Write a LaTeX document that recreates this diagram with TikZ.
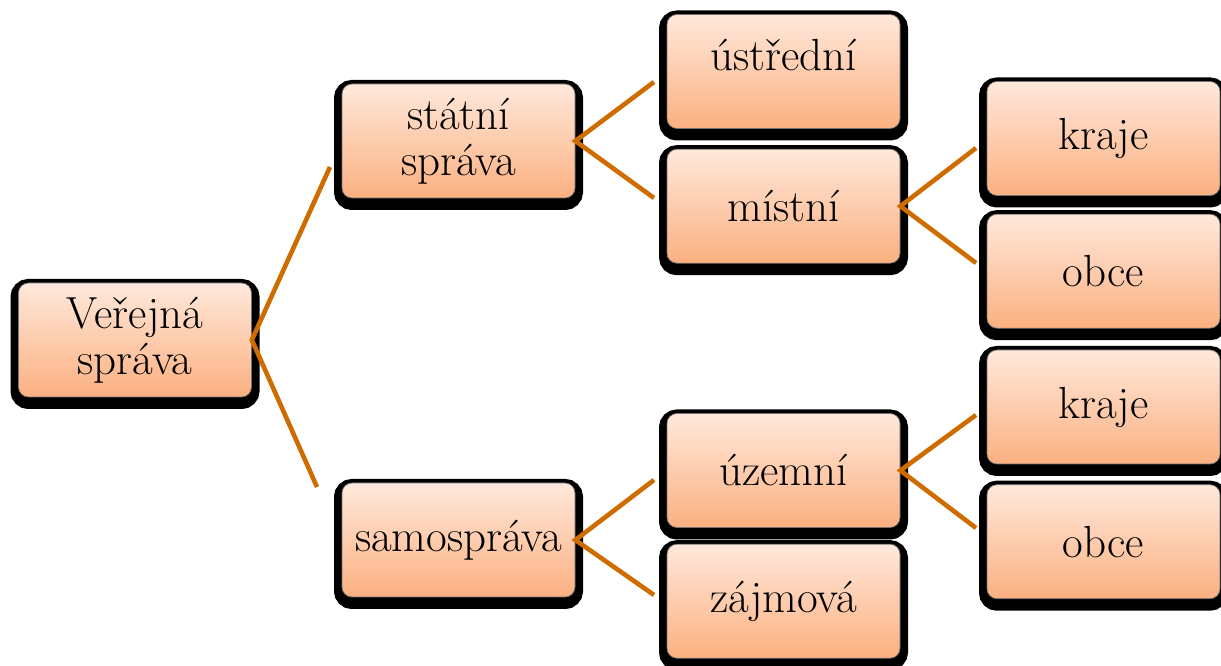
\documentclass[tikz,border=0pt]{standalone}
\usepackage{tikz}
\usetikzlibrary{calc,positioning}
\usepackage{xcolor}
\definecolor{peachtop}{RGB}{255,232,219}
\definecolor{peachbot}{RGB}{251,176,128}
\definecolor{linkorange}{RGB}{206,108,0}

\begin{document}
\begin{tikzpicture}[
boxnode/.style={rectangle, rounded corners=0.25cm, draw=black!55, line width=0.5pt,
  top color=peachtop, bottom color=peachbot,
  preaction={draw=black, line width=0.4cm, transform canvas={yshift=-0.1cm}},
  minimum width=5.825cm, minimum height=2.85cm, inner sep=0pt, align=center,
  font=\fontsize{32}{33}\selectfont},
link/.style={draw=linkorange, line width=0.115cm},
]
\useasboundingbox (0,0) rectangle (30.525,16.65);
%Nodes
\node[boxnode]  (verejna)  at (3.375,8.15) {Veřejná\\správa};
\node[boxnode]  (statni)  at (11.4625,13.125) {státní\\správa};
\node[boxnode]  (samosprava)  at (11.4625,3.15) {samospráva};
\node[boxnode]  (ustredni)  at (19.5875,14.8625) {ústřední\\[-0.35cm]~};
\node[boxnode]  (mistni)  [below=0.5cm of ustredni] {místní};
\node[boxnode]  (uzemni)  at (19.5875,4.8875) {územní};
\node[boxnode]  (zajmova)  [below=0.4cm of uzemni] {zájmová};
\node[boxnode]  (krajeS)  at (27.5875,13.1875) {kraje};
\node[boxnode]  (obceS)  [below=0.45cm of krajeS] {obce};
\node[boxnode]  (krajeU)  at (27.5875,6.475) {kraje};
\node[boxnode]  (obceU)  [below=0.5cm of krajeU] {obce};
%Free ends
\coordinate (toStatni) at (8.25,12.475);
\coordinate (toSamo) at (7.925,4.475);
\coordinate (toUstr) at (16.35,14.6);
\coordinate (toMist) at (16.35,11.7);
\coordinate (toKrajeS) at (24.4,12.95);
\coordinate (toObceS) at (24.4,10.075);
\coordinate (toUzem) at (16.35,4.65);
\coordinate (toZajm) at (16.35,1.775);
\coordinate (toKrajeU) at (24.4,6.275);
\coordinate (toObceU) at (24.4,3.45);
%Links
\draw[link] (toStatni) -- (verejna.east) -- (toSamo);
\draw[link] (toUstr) -- (statni.east) -- (toMist);
\draw[link] (toKrajeS) -- (mistni.east) -- (toObceS);
\draw[link] (toUzem) -- (samosprava.east) -- (toZajm);
\draw[link] (toKrajeU) -- (uzemni.east) -- (toObceU);
\end{tikzpicture}
\end{document}
